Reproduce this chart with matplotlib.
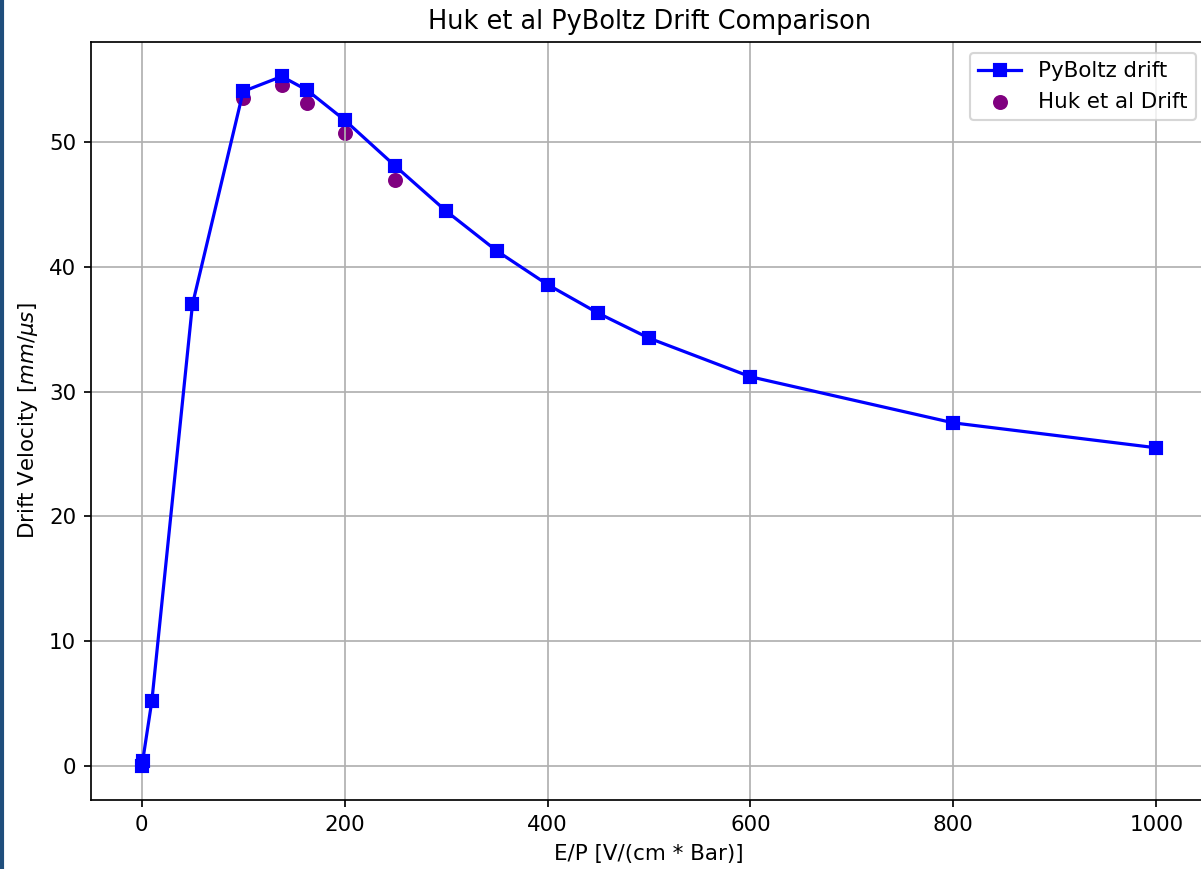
import matplotlib
matplotlib.use("Agg")
import matplotlib.pyplot as plt
from matplotlib.patches import Rectangle

# PyBoltz drift data
pyboltz_ep = [0, 1, 10, 50, 100, 138, 163, 200, 250, 300, 350, 400, 450, 500, 600, 800, 1000]
pyboltz_v = [0.0, 0.4, 5.2, 37.0, 54.1, 55.3, 54.2, 51.8, 48.1, 44.5, 41.3, 38.6, 36.3, 34.3, 31.2, 27.5, 25.5]

# Huk et al drift data
huk_ep = [100, 138, 163, 200, 250]
huk_v = [53.6, 54.6, 53.2, 50.8, 47.0]

dpi = 154
fig = plt.figure(figsize=(1201 / dpi, 869 / dpi), dpi=dpi)
W, H = 1201, 869
ax = fig.add_axes([91 / W, (H - 800) / H, (1207 - 91) / W, (800 - 42) / H])

ax.plot(pyboltz_ep, pyboltz_v, color="blue", marker="s", label="PyBoltz drift")
ax.scatter(huk_ep, huk_v, color="purple", label="Huk et al Drift")
ax.grid(True)
ax.set_title("Huk et al PyBoltz Drift Comparison")
ax.set_xlabel("E/P [V/(cm * Bar)]")
ax.set_ylabel("Drift Velocity $[mm/\\mu s]$")
ax.legend(loc="upper right")
# the reference image is cropped just before the right spine
ax.spines["right"].set_visible(False)

fig.patches.append(Rectangle((0, 0), 3 / W, 1, transform=fig.transFigure,
                             color="#1f4e7c", zorder=10))

fig.savefig("out.png", dpi=dpi)
